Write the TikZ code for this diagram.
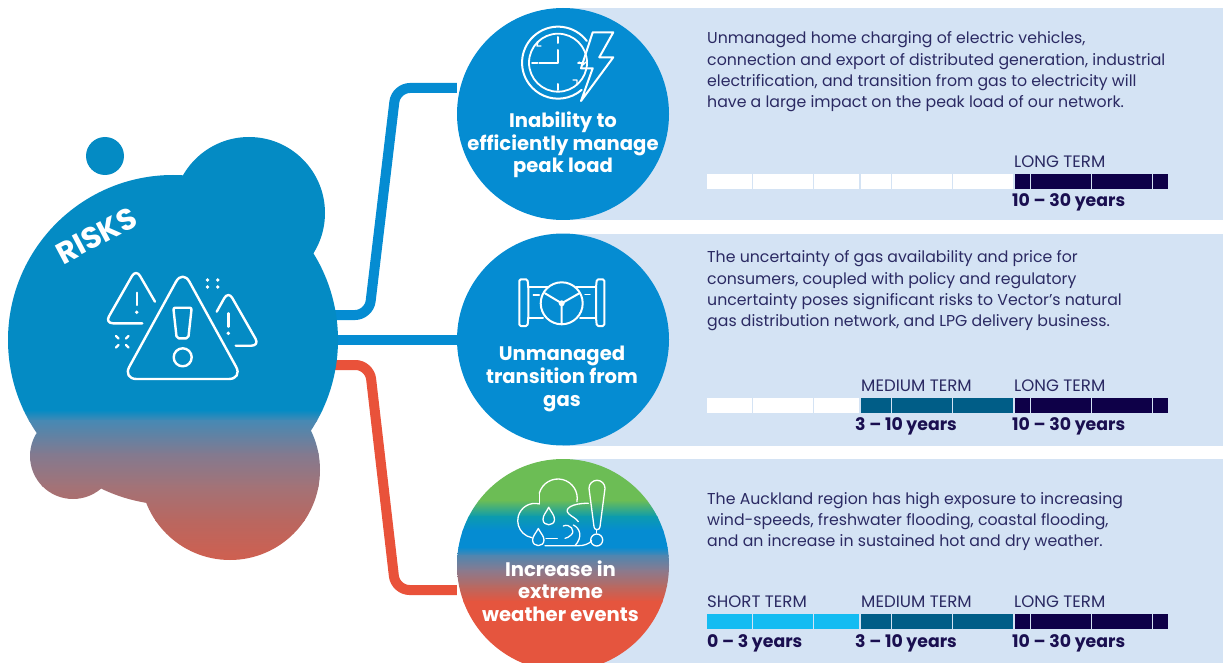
\documentclass[tikz,border=0pt]{standalone}
\usepackage{fontspec}
\setmainfont{Poppins}
\definecolor{panel}{HTML}{D4E3F4}
\definecolor{hubblue}{HTML}{048BC4}
\definecolor{hubA}{RGB}{70,137,180}
\definecolor{hubB}{RGB}{130,122,144}
\definecolor{hubC}{RGB}{162,115,120}
\definecolor{hubD}{RGB}{185,103,96}
\definecolor{hubred}{HTML}{D05F4F}
\definecolor{circblue}{HTML}{058CD2}
\definecolor{linkred}{HTML}{E9523A}
\definecolor{wgreen}{HTML}{6CBD55}
\definecolor{wteal}{HTML}{0C9BAE}
\definecolor{wred}{HTML}{E5553E}
\definecolor{wA}{HTML}{4F86B0}
\definecolor{wB}{HTML}{8A7A8E}
\definecolor{wC}{HTML}{B56A64}
\definecolor{shortc}{HTML}{14BCF2}
\definecolor{medc}{HTML}{005D87}
\definecolor{longc}{HTML}{0E0048}
\definecolor{ink}{HTML}{2B2A63}
\definecolor{inkb}{HTML}{1A0F50}
\tikzset{
  x=1pt,y=-1pt,
  linkblue/.style={draw=circblue,line width=10pt,rounded corners=14pt},
  linkred/.style={draw=linkred,line width=10pt,rounded corners=14pt},
  topic/.style={circle,minimum size=212pt,inner sep=0pt},
  heading/.style={text=white,font=\fontsize{19.6}{22.6}\selectfont\bfseries,align=center,inner sep=0pt},
  body/.style={text=ink,font=\fontsize{15.75}{21.4}\selectfont,align=left,anchor=north west,inner sep=0pt},
  termlabel/.style={text=ink,font=\fontsize{16.6}{18}\selectfont,anchor=west,inner sep=0pt},
  yearlabel/.style={text=inkb,font=\fontsize{17.3}{20}\selectfont\bfseries,anchor=west,inner sep=0pt},
  icon/.style={draw=white,line width=2.4pt,line cap=round,line join=round},
  iconthin/.style={draw=white,line width=1.3pt,line cap=round,line join=round},
  icondot/.style={fill=white,draw=none},
}
\newcommand{\termbar}[4]{%
  \foreach \a/\b in {707/752,753/813,814/859.4}{\fill[#2] (\a,#1) rectangle (\b,#1+15);}
  \foreach \a/\b in {861/891,892/952,953/1013.4}{\fill[#3] (\a,#1) rectangle (\b,#1+15);}
  \foreach \a/\b in {1015/1030,1031/1091,1092/1152,1153/1168}{\fill[#4] (\a,#1) rectangle (\b,#1+15);}
}
\newcommand{\band}[6]{\shade[top color=#5,bottom color=#6] (#1,#3) rectangle (#2,#4);}
\begin{document}
\begin{tikzpicture}
\useasboundingbox (0,0) rectangle (1223,663);
% panels
\fill[panel] (563,8) rectangle (1223,220);
\fill[panel] (563,234) rectangle (1223,446);
\fill[panel] (563,459) rectangle (1223,663);
% anchors of the hub and topic circles
\coordinate (hubpa) at (325,315);
\coordinate (hubpb) at (325,339.5);
\coordinate (hubpc) at (325,365);
\node[topic] (c1) at (563,114) {};
\node[topic] (c2) at (563,339.5) {};
\node[topic] (c3) at (563,565) {};
% connectors
\draw[linkblue] (hubpa) -- (369,315) -- (396,88) -- ([yshift=26pt]c1.west);
\draw[linkblue] (hubpb) -- (c2.west);
\draw[linkred] (hubpc) -- (369.5,365) -- (395.5,590) -- ([yshift=-25pt]c3.west);
% hub blob
\begin{scope}
\clip (173,340) circle[radius=165pt] (249,213) circle[radius=76pt]
      (230,470) circle[radius=90pt] (73,456) circle[radius=43pt]
      (102,489) -- (145,502) -- (200,480) -- (120,440) -- cycle;
\fill[hubblue] (0,120) rectangle (345,411);
\band{0}{345}{410}{421}{hubblue}{hubA}
\band{0}{345}{420}{454}{hubA}{hubB}
\band{0}{345}{453}{486}{hubB}{hubC}
\band{0}{345}{485}{521}{hubC}{hubD}
\band{0}{345}{520}{562}{hubD}{hubred}
\end{scope}
\fill[hubblue] (105,156) circle[radius=19pt];
\node[text=white,font=\fontsize{30}{30}\selectfont\bfseries,rotate=28,inner sep=0pt] (risks) at (96.5,235.5) {RISKS};
% warning icon
\draw[icon,rounded corners=14pt] (182.7,269.5) -- (242.8,379) -- (122.6,379) -- cycle;
\draw[icon,rounded corners=2pt] (173.3,307.7) -- (191.7,307.7) -- (188.3,338.3) -- (176.7,338.3) -- cycle;
\draw[icon] (182.7,357.3) circle[radius=9pt];
\draw[icon,rounded corners=8pt] (155,301.7) -- (136,269) -- (105,323.3) -- (142.3,323.3);
\draw[icon] (136.7,292.7) -- (136.7,305);
\fill[icondot] (136.7,312.3) circle[radius=1.9pt];
\draw[icon,rounded corners=8pt] (216.7,311.7) -- (228.3,291) -- (259.5,345.7) -- (235.7,345.7);
\draw[icon] (228.3,313.3) -- (228.3,326.7);
\fill[icondot] (228.3,333.3) circle[radius=1.9pt];
\foreach \p/\q in {207.5/280,217.7/280,207.5/287,217.7/287}{\fill[icondot] (\p,\q) circle[radius=1.9pt];}
\draw[icon] (116,336) -- (118.5,338.5) (128.5,336) -- (126,338.5) (116,347.5) -- (118.5,345) (128.5,347.5) -- (126,345);
% topic circles
\fill[circblue] (c1.center) circle[radius=106pt];
\fill[circblue] (c2.center) circle[radius=106pt];
\begin{scope}
\clip (c3.center) circle[radius=106pt];
\fill[wgreen] (450,455) rectangle (680,501);
\band{450}{680}{500}{517}{wgreen}{wteal}
\band{450}{680}{516}{531}{wteal}{circblue}
\fill[circblue] (450,530) rectangle (680,548);
\band{450}{680}{547}{556}{circblue}{wA}
\band{450}{680}{555}{571}{wA}{wB}
\band{450}{680}{570}{586}{wB}{wC}
\band{450}{680}{585}{602}{wC}{wred}
\fill[wred] (450,601) rectangle (680,675);
\end{scope}
% clock icon
\draw[icon,line width=2pt] (586.8,41) arc[start angle=37,end angle=311,radius=36pt];
\draw[icon,line width=1.8pt] (558,62.7) circle[radius=29pt];
\draw[icon,line width=2pt] (558,37) -- (558,43) (558,84) -- (558,90) (532,62.7) -- (537.5,62.7) (578,62.7) -- (583.5,62.7);
\draw[icon,line width=2pt] (558.3,50) -- (558.3,62.7) -- (539.3,62.7);
\draw[iconthin] (538,42) -- (537,46) -- (541,46) (577,85) -- (577,80) -- (573,80) (579,62) -- (583,65) -- (586,62);
\draw[icon,line width=2pt] (592.7,32.3) -- (613.3,32.3) -- (599.3,57.3) -- (613.3,57.3) -- (581,101) -- (592.7,68.3) -- (581,68.3) -- cycle;
% valve icon
\draw[icon,line width=2pt,rounded corners=1.5pt] (519.3,279.3) -- (527.5,279.3) -- (528.3,287.3) -- (528.3,317.7) -- (527.5,326) -- (519.3,326) -- cycle;
\draw[icon,line width=2pt,rounded corners=1.5pt] (604.3,279.3) -- (596.8,279.3) -- (596,287.3) -- (596,317.7) -- (596.8,326) -- (604.3,326) -- cycle;
\draw[icon,line width=2pt] (528.3,287.3) -- (548,287.3) (576,287.3) -- (596,287.3) (528.3,317.7) -- (543,317.7) (580,317.7) -- (596,317.7);
\draw[icon,line width=2pt] (561.7,303.3) circle[radius=21pt];
\draw[icon,line width=2pt] (561.7,303.3) -- (545,293.3) (561.7,303.3) -- (579.3,293.3) (561.7,303.3) -- (561.7,323.3);
\fill[icondot] (561.7,303.3) circle[radius=3pt];
\draw[icon,line width=1.4pt] (533.3,295) -- (539.3,295) (585,294.3) -- (590,294.3);
% weather icon
\draw[iconthin] (539.3,493.3) arc[start angle=165,end angle=-10,radius=19.3pt];
\draw[iconthin] (539.2,503.9) arc[start angle=76,end angle=260,radius=17.3pt];
\draw[iconthin] (539.3,493.3) -- (539.3,503.9);
\draw[iconthin] (588.3,503.3) .. controls (572,503) and (563,509) .. (569,514) .. controls (572,517) and (576,518) .. (578.3,521.7);
\draw[iconthin] (563.3,526) .. controls (570,523) and (576,531) .. (571,535) .. controls (569,537) and (567,538) .. (565,538.3);
\draw[iconthin] (573.3,525) .. controls (580,528) and (583,537) .. (575,545.7);
\draw[iconthin] (545,545.7) -- (578.3,545.7) .. controls (584,545.7) and (589,544) .. (591.7,540.7);
\draw[iconthin] (546,538.7) -- (557.3,538.7);
\draw[iconthin] (548.7,507.3) .. controls (551,512) and (554.5,515) .. (554.5,519.5) .. controls (554.5,526.5) and (543,526.5) .. (543,519.5) .. controls (543,515) and (546.5,512) .. (548.7,507.3);
\draw[iconthin] (538.3,528.5) .. controls (540.5,533) and (544,536) .. (544,540) .. controls (544,547.5) and (532.6,547.5) .. (532.6,540) .. controls (532.6,536) and (536,533) .. (538.3,528.5);
\draw[iconthin] (589,488.3) arc[start angle=180,end angle=0,radius=8pt] -- (600,526.7) arc[start angle=0,end angle=-180,radius=3pt] -- cycle;
\draw[iconthin] (596.7,540) circle[radius=6pt];
\draw[iconthin] (596.7,530.5) -- (596.7,533);
% headings
\node[heading] (h1) at (563,145) {Inability to\\efficiently manage\\peak load};
\node[heading] (h2) at (562,379) {Unmanaged\\transition from\\gas};
\node[heading] (h3) at (560.5,591) {Increase in\\extreme\\weather events};
% body
\node[body] (b1) at (707,31.5) {Unmanaged home charging of electric vehicles,\\connection and export of distributed generation, industrial\\electrification, and transition from gas to electricity will\\have a large impact on the peak load of our network.};
\node[body] (b2) at (707,250.5) {The uncertainty of gas availability and price for\\consumers, coupled with policy and regulatory\\uncertainty poses significant risks to Vector’s natural\\gas distribution network, and LPG delivery business.};
\node[body] (b3) at (707,492) {The Auckland region has high exposure to increasing\\wind-speeds, freshwater flooding, coastal flooding,\\and an increase in sustained hot and dry weather.};
% term bars
\termbar{174}{white}{white}{longc}
\termbar{398}{white}{medc}{longc}
\termbar{614}{shortc}{medc}{longc}
\node[termlabel] (t1l) at (1014,162) {LONG TERM};
\node[yearlabel] (y1l) at (1012,202) {10 – 30 years};
\node[termlabel] (t2m) at (861,386) {MEDIUM TERM};
\node[termlabel] (t2l) at (1014,386) {LONG TERM};
\node[yearlabel] (y2m) at (855,426) {3 – 10 years};
\node[yearlabel] (y2l) at (1012,426) {10 – 30 years};
\node[termlabel] (t3s) at (707,602) {SHORT TERM};
\node[termlabel] (t3m) at (861,602) {MEDIUM TERM};
\node[termlabel] (t3l) at (1014,602) {LONG TERM};
\node[yearlabel] (y3s) at (707,643) {0 – 3 years};
\node[yearlabel] (y3m) at (855,643) {3 – 10 years};
\node[yearlabel] (y3l) at (1012,643) {10 – 30 years};
\end{tikzpicture}
\end{document}
